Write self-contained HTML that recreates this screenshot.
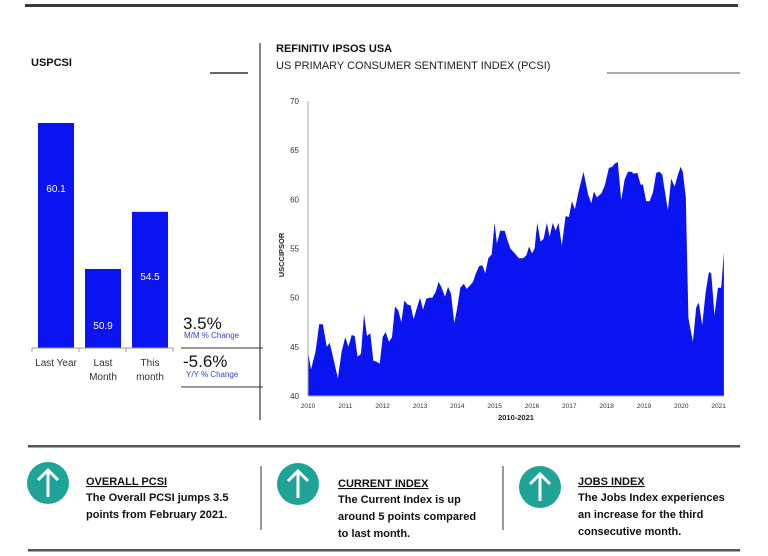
<!DOCTYPE html>
<html><head><meta charset="utf-8"><style>
body{margin:0;background:#fff;width:768px;height:556px;overflow:hidden;font-family:"Liberation Sans",sans-serif}
svg{display:block}
text{font-family:"Liberation Sans",sans-serif}
</style></head><body>
<svg id="s" width="768" height="556" viewBox="0 0 768 556">
<rect x="25" y="4" width="713" height="3" fill="#3a3a3a"/>
<text x="31" y="66" font-size="11" font-weight="bold" fill="#111">USPCSI</text>
<line x1="210" y1="73" x2="248" y2="73" stroke="#333" stroke-width="1.5"/>
<line x1="260" y1="43" x2="260" y2="420" stroke="#333" stroke-width="1.2"/>
<text x="276" y="52" font-size="11" font-weight="bold" fill="#111">REFINITIV IPSOS USA</text>
<text x="276" y="69" font-size="11" fill="#222">US PRIMARY CONSUMER SENTIMENT INDEX (PCSI)</text>
<line x1="607" y1="73" x2="740" y2="73" stroke="#555" stroke-width="1"/>
<g id="bars"></g>
<text x="183" y="329" font-size="17" fill="#111">3.5%</text>
<text x="184" y="338" font-size="8" fill="#3344cc">M/M % Change</text>
<line x1="181" y1="348" x2="263" y2="348" stroke="#333" stroke-width="1"/>
<text x="183" y="367" font-size="17" fill="#111">-5.6%</text>
<text x="186" y="377" font-size="8" fill="#3344cc">Y/Y % Change</text>
<line x1="181" y1="387" x2="263" y2="387" stroke="#333" stroke-width="1"/>
<g id="area"></g>
<text transform="translate(284,255) rotate(-90)" text-anchor="middle" font-size="7.5" font-weight="bold" fill="#222">USCCIPSOR</text>
<text x="516" y="420" text-anchor="middle" font-size="7.5" font-weight="bold" fill="#222">2010-2021</text>
<rect x="28" y="445" width="712" height="2.5" fill="#555"/>
<rect x="28" y="549" width="712" height="2.5" fill="#555"/>
<line x1="261" y1="466" x2="261" y2="530" stroke="#333"/>
<line x1="503" y1="466" x2="503" y2="530" stroke="#333"/>
<g>
<circle cx="48" cy="483" r="21" fill="#1fa396"/>
<path d="M48 497V470M38 480L48 470L58 480" stroke="#fff" stroke-width="3" fill="none"/>
<text x="86" y="485" font-size="11" font-weight="bold" text-decoration="underline" fill="#111">OVERALL PCSI</text>
<text x="86" y="501" font-size="11" font-weight="bold" fill="#111">The Overall PCSI jumps 3.5</text>
<text x="86" y="518" font-size="11" font-weight="bold" fill="#111">points from February 2021.</text>
</g>
<g>
<circle cx="298" cy="484" r="21" fill="#1fa396"/>
<path d="M298 498V471M288 481L298 471L308 481" stroke="#fff" stroke-width="3" fill="none"/>
<text x="338" y="487" font-size="11" font-weight="bold" text-decoration="underline" fill="#111">CURRENT INDEX</text>
<text x="338" y="503" font-size="11" font-weight="bold" fill="#111">The Current Index is up</text>
<text x="338" y="520" font-size="11" font-weight="bold" fill="#111">around 5 points compared</text>
<text x="338" y="537" font-size="11" font-weight="bold" fill="#111">to last month.</text>
</g>
<g>
<circle cx="540" cy="487" r="21" fill="#1fa396"/>
<path d="M540 501V474M530 484L540 474L550 484" stroke="#fff" stroke-width="3" fill="none"/>
<text x="578" y="485" font-size="11" font-weight="bold" text-decoration="underline" fill="#111">JOBS INDEX</text>
<text x="578" y="501" font-size="11" font-weight="bold" fill="#111">The Jobs Index experiences</text>
<text x="578" y="518" font-size="11" font-weight="bold" fill="#111">an increase for the third</text>
<text x="578" y="535" font-size="11" font-weight="bold" fill="#111">consecutive month.</text>
</g>
</svg>
<script>
const barCategories=[["Last Year"],["Last","Month"],["This","month"]];
const barValues=[60.1,50.9,54.5];
const dates=[2010.0,2010.08,2010.2,2010.3,2010.4,2010.5,2010.58,2010.7,2010.8,2010.9,2011.0,2011.08,2011.17,2011.25,2011.33,2011.42,2011.5,2011.58,2011.67,2011.75,2011.83,2011.92,2012.0,2012.08,2012.17,2012.25,2012.33,2012.42,2012.5,2012.58,2012.67,2012.75,2012.83,2012.92,2013.0,2013.08,2013.17,2013.25,2013.33,2013.42,2013.5,2013.58,2013.67,2013.75,2013.83,2013.92,2014.0,2014.08,2014.17,2014.25,2014.33,2014.42,2014.5,2014.58,2014.67,2014.75,2014.83,2014.92,2015.0,2015.06,2015.15,2015.27,2015.33,2015.42,2015.54,2015.65,2015.76,2015.85,2015.92,2016.0,2016.07,2016.14,2016.23,2016.31,2016.4,2016.47,2016.56,2016.63,2016.71,2016.8,2016.9,2016.99,2017.07,2017.15,2017.25,2017.38,2017.5,2017.59,2017.66,2017.74,2017.86,2017.95,2018.06,2018.15,2018.21,2018.3,2018.39,2018.48,2018.57,2018.66,2018.73,2018.82,2018.91,2018.97,2019.06,2019.15,2019.24,2019.33,2019.42,2019.49,2019.56,2019.64,2019.73,2019.82,2019.91,2019.98,2020.04,2020.12,2020.19,2020.31,2020.4,2020.47,2020.56,2020.65,2020.74,2020.8,2020.89,2020.98,2021.07,2021.14];
const values=[44.5,42.7,44.5,47.3,47.3,45.0,45.4,43.5,41.8,44.5,46.0,45.0,46.2,46.1,44.0,44.3,48.3,46.1,46.4,43.6,43.5,43.3,46.0,46.5,45.5,46.0,49.1,48.7,47.5,49.7,49.3,49.2,47.8,49.0,50.0,48.8,49.9,50.0,50.0,50.6,51.6,51.0,50.1,51.1,50.4,47.4,49.0,51.0,51.4,50.9,51.2,51.6,52.5,53.2,53.3,52.5,54.0,54.4,57.6,55.5,56.8,56.8,56.0,55.0,54.5,54.0,54.0,54.3,55.2,54.5,55.0,57.6,55.7,56.0,57.6,56.2,57.6,56.8,57.6,55.3,58.3,58.2,59.8,59.0,60.8,62.8,60.5,59.6,60.8,60.2,60.6,61.4,63.2,63.3,63.6,63.8,59.9,62.0,62.8,62.8,62.6,62.7,61.5,61.5,59.8,59.8,60.7,62.7,62.8,62.5,60.8,58.9,62.1,61.3,62.5,63.3,62.8,60.2,47.9,45.5,49.0,49.5,47.2,50.5,52.6,52.5,48.2,51.0,51.0,54.6];
const yTicks=[40,45,50,55,60,65,70];
const xTicks=[2010,2011,2012,2013,2014,2015,2016,2017,2018,2019,2020,2021];
const NS="http://www.w3.org/2000/svg";
function mk(p,t,a){const e=document.createElementNS(NS,t);for(const k in a)e.setAttribute(k,a[k]);p.appendChild(e);return e;}
const bg=document.getElementById('bars');
const bBase=45.92,bBaseY=348,bPx=15.87;
const by=v=>bBaseY-(v-bBase)*bPx;
const bx=i=>38+i*47;
barValues.forEach((v,i)=>{
  const r=mk(bg,'rect',{x:bx(i),y:by(v),width:36,height:bBaseY-by(v),fill:'#0a14f0'});
  
  
  const t=mk(bg,'text',{x:bx(i)+18,y:i==1?by(v)+60:by(v)+58,'text-anchor':'middle','font-size':'10',fill:'#fff'});
  if(i==0)t.setAttribute('y',by(v)+69);
  if(i==2)t.setAttribute('y',by(v)+68);
  t.textContent=v.toFixed(1);
  
  
  barCategories[i].forEach((s,j)=>{
    const c=mk(bg,'text',{x:bx(i)+18,y:366+j*14,'text-anchor':'middle','font-size':'10',fill:'#333'});
    c.textContent=s;
    
    
  });
});
const ax=mk(bg,'line',{x1:32,y1:348,x2:173,y2:348,stroke:'#999'});


[32,79,126,173].forEach(x=>mk(bg,'line',{x1:x,y1:348,x2:x,y2:352,stroke:'#999'}));
const ag=document.getElementById('area');
const X=d=>308+(d-2010)*37.33;
const Y=v=>396-(v-40)*9.833;
let d='M'+X(dates[0])+' '+Y(40);
dates.forEach((t,i)=>{d+=' L'+X(t).toFixed(1)+' '+Y(values[i]).toFixed(1);});
d+=' L'+X(dates[dates.length-1]).toFixed(1)+' '+Y(40)+' Z';
const ar=mk(ag,'path',{d:d,fill:'#0a14f0'});


const yl=mk(ag,'line',{x1:308,y1:Y(70),x2:308,y2:Y(40),stroke:'#aaa'});


const xl=mk(ag,'line',{x1:308,y1:Y(40),x2:724,y2:Y(40),stroke:'#aaa'});


yTicks.forEach(v=>{
  const t=mk(ag,'text',{x:299,y:Y(v)+3,'text-anchor':'end','font-size':'8',fill:'#333'});
  t.textContent=v;
  
  
});
xTicks.forEach(v=>{
  const t=mk(ag,'text',{x:X(v),y:408,'text-anchor':'middle','font-size':'6.5',fill:'#333'});
  t.textContent=v;
  
  
});
</script>
</body></html>
